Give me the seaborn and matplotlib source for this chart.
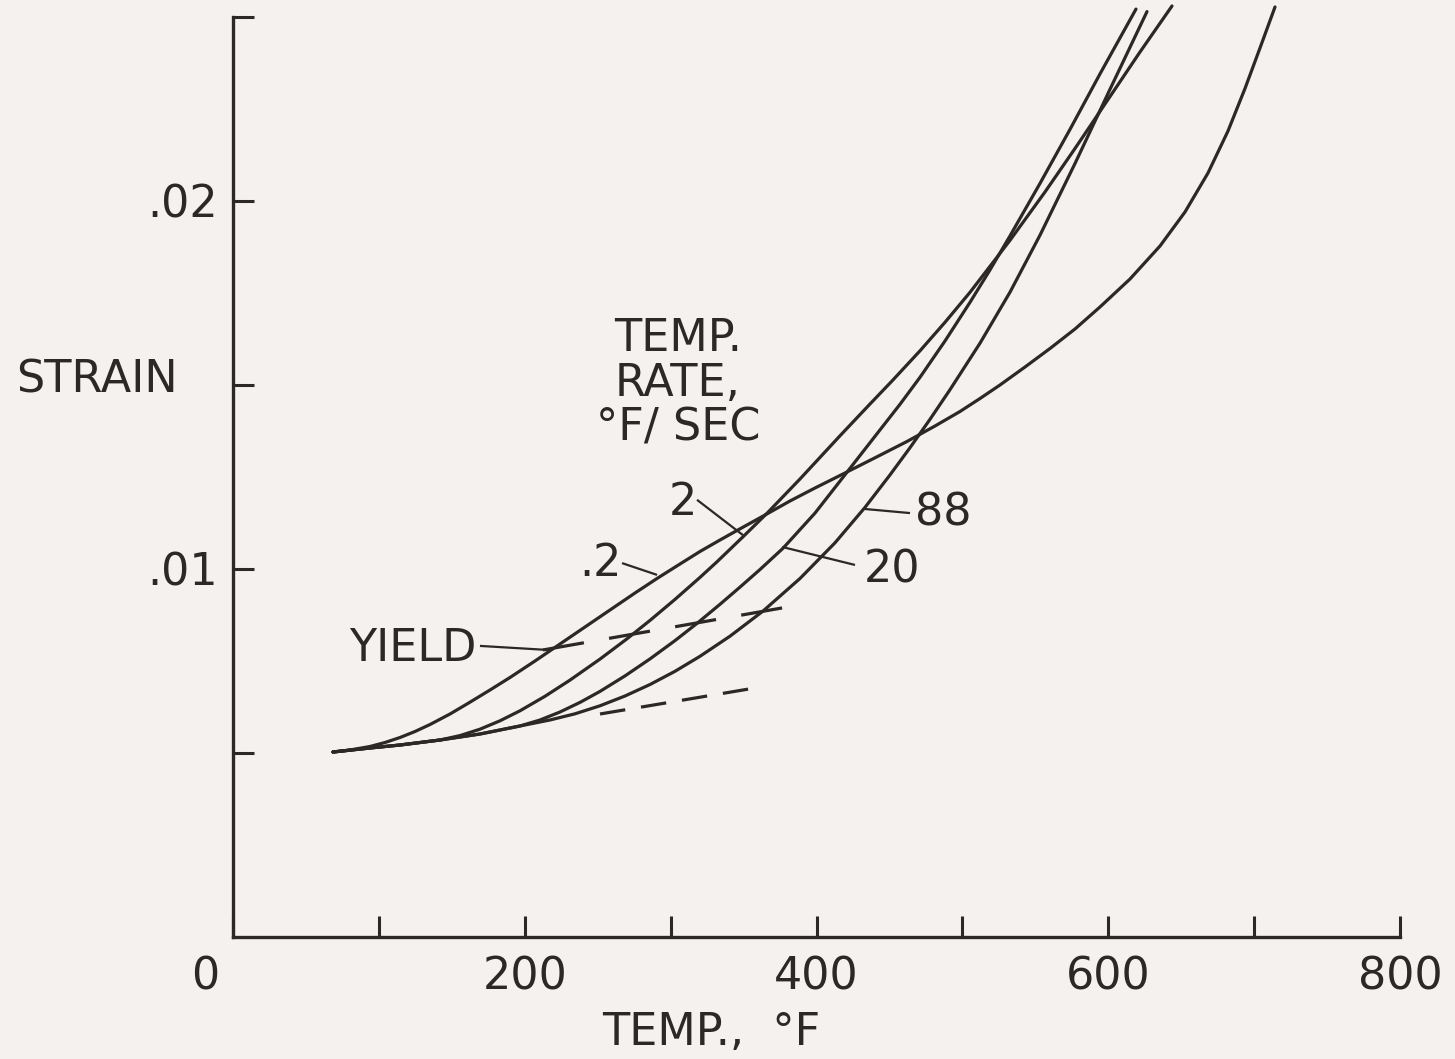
import matplotlib
matplotlib.use("Agg")
import matplotlib.pyplot as plt
import matplotlib.transforms as mtransforms
import pandas as pd
import seaborn as sns

# ---------------- data ----------------
rate_names = [".2", "2", "20", "88"]

temp_r02 = [68.55, 80.21, 93.92, 104.20, 114.48, 124.76, 135.05, 148.76, 160.41, 176.18,
            189.89, 207.03, 224.16, 241.30, 258.44, 275.58, 290.66, 306.43, 320.14, 333.85,
            345.50, 364.70, 381.83, 398.97, 418.17, 440.10, 462.04, 481.24, 498.37, 512.08,
            525.79, 542.93, 560.07, 577.21, 594.34, 614.91, 635.48, 652.61, 668.38, 682.09,
            693.74, 704.03, 714.31]
strain_r02 = [0.005027, 0.005082, 0.005177, 0.005285, 0.005421, 0.005584, 0.005774,
              0.006060, 0.006332, 0.006712, 0.007052, 0.007500, 0.007962, 0.008424,
              0.008886, 0.009348, 0.009742, 0.010136, 0.010476, 0.010788, 0.011046,
              0.011467, 0.011848, 0.012201, 0.012582, 0.013022, 0.013465, 0.013886,
              0.014280, 0.014633, 0.015000, 0.015489, 0.015992, 0.016522, 0.017120,
              0.017880, 0.018777, 0.019701, 0.020761, 0.021902, 0.023057, 0.024158,
              0.025272]

temp_r2 = [68.55, 93.92, 114.48, 141.90, 155.61, 169.32, 183.03, 196.74, 213.88, 231.02,
           251.59, 270.09, 285.86, 303.00, 320.14, 331.79, 349.61, 366.07, 388.69, 416.11,
           436.68, 451.76, 470.95, 488.09, 505.23, 532.65, 556.64, 577.21, 597.77, 621.76,
           643.70]
strain_r2 = [0.005027, 0.005136, 0.005217, 0.005353, 0.005473, 0.005647, 0.005875,
             0.006147, 0.006541, 0.006981, 0.007552, 0.008103, 0.008603, 0.009174,
             0.009772, 0.010196, 0.010875, 0.011514, 0.012446, 0.013620, 0.014484,
             0.015109, 0.015929, 0.016704, 0.017519, 0.018932, 0.020245, 0.021427,
             0.022636, 0.024049, 0.025299]

temp_r20 = [68.55, 93.92, 114.48, 141.90, 169.32, 196.74, 210.46, 224.16, 237.87, 251.59,
            268.72, 285.86, 303.00, 318.08, 333.85, 347.56, 361.27, 377.04, 398.97, 418.17,
            440.10, 457.24, 470.95, 488.09, 505.23, 518.94, 532.65, 553.21, 573.78, 594.34,
            619.02]
strain_r20 = [0.005027, 0.005136, 0.005217, 0.005353, 0.005516, 0.005734, 0.005897,
              0.006114, 0.006375, 0.006674, 0.007095, 0.007557, 0.008054, 0.008522,
              0.009041, 0.009508, 0.009986, 0.010563, 0.011519, 0.012492, 0.013606,
              0.014476, 0.015209, 0.016196, 0.017247, 0.018128, 0.019052, 0.020478,
              0.021946, 0.023454, 0.025215]

temp_r88 = [68.55, 93.92, 114.48, 141.90, 169.32, 196.74, 217.31, 234.45, 251.59, 268.72,
            285.86, 303.00, 320.14, 340.70, 363.32, 388.69, 412.68, 433.25, 450.39, 464.10,
            477.81, 491.52, 512.08, 532.65, 553.21, 577.21, 601.20, 626.56]
strain_r88 = [0.005027, 0.005136, 0.005217, 0.005353, 0.005516, 0.005734, 0.005897,
              0.006065, 0.006283, 0.006549, 0.006861, 0.007220, 0.007628, 0.008174,
              0.008856, 0.009742, 0.010712, 0.011674, 0.012557, 0.013296, 0.014068,
              0.014873, 0.016136, 0.017522, 0.019071, 0.021019, 0.023036, 0.025147]

yield_temp = [212.5, 380.5]
yield_strain = [0.00780, 0.00897]

lower_temp = [251.6, 361.3]
lower_strain = [0.00606, 0.00679]

x_ticks = [0, 100, 200, 300, 400, 500, 600, 700, 800]
x_ticklabels = ["0", "", "200", "", "400", "", "600", "", "800"]
y_ticks = [0.005, 0.010, 0.015, 0.020, 0.025]
y_ticklabels = ["", ".01", "", ".02", ""]

# ---------------- style ----------------
ink = "#2b2826"
paper = "#f5f1ee"
sns.set_theme(style="white")
plt.rcParams["font.family"] = ["DejaVu Sans"]
plt.rcParams["text.color"] = ink
FS = 32

fig = plt.figure(figsize=(14.55, 10.59), dpi=100, facecolor=paper)
ax = fig.add_axes([233 / 1455, 1 - 937 / 1059, 1167 / 1455, 920 / 1059])
ax.set_facecolor(paper)

curves = {
    ".2": (temp_r02, strain_r02),
    "2": (temp_r2, strain_r2),
    "20": (temp_r20, strain_r20),
    "88": (temp_r88, strain_r88),
}
for name in rate_names:
    t, s = curves[name]
    df = pd.DataFrame({"temp": t, "strain": s})
    sns.lineplot(data=df, x="temp", y="strain", ax=ax, color=ink, lw=2.3,
                 sort=False, estimator=None, clip_on=False,
                 solid_capstyle="round", solid_joinstyle="round", legend=False)

# yield (long dashes) and lower short-dash line
sns.lineplot(x=yield_temp, y=yield_strain, ax=ax, color=ink, lw=2.3,
             estimator=None, sort=False, legend=False,
             linestyle=(0, (13, 8)))
sns.lineplot(x=lower_temp, y=lower_strain, ax=ax, color=ink, lw=2.3,
             estimator=None, sort=False, legend=False,
             linestyle=(0, (8, 5)))

# leaders and labels
lead_kw = dict(color=ink, lw=1.6, solid_capstyle="butt")
ax.plot([266.7, 290.7], [0.01016, 0.00984], **lead_kw)
ax.text(251.6, 0.01014, ".2", fontsize=FS, ha="center", va="center", color=ink)

ax.plot([318.1, 349.6], [0.01188, 0.01092], **lead_kw)
ax.text(308.5, 0.01182, "2", fontsize=FS, ha="center", va="center", color=ink)

ax.plot([376.4, 426.4], [0.01060, 0.01011], **lead_kw)
ax.text(451.8, 0.00997, "20", fontsize=FS, ha="center", va="center", color=ink)

ax.plot([433.3, 464.1], [0.01163, 0.01152], **lead_kw)
ax.text(486.7, 0.01152, "88", fontsize=FS, ha="center", va="center", color=ink)

ax.plot([169.3, 215.9], [0.00791, 0.00780], **lead_kw)
ax.text(166.6, 0.00785, "YIELD", fontsize=FS, ha="right", va="center", color=ink)

ax.text(305, 0.01505, "TEMP.\nRATE,\n°F/ SEC", fontsize=FS, ha="center",
        va="center", linespacing=1.05, color=ink)

# axes
ax.set_xlim(0, 800)
ax.set_ylim(0, 0.025)
ax.set_xticks(x_ticks)
ax.set_xticklabels(x_ticklabels)
ax.set_yticks(y_ticks)
ax.set_yticklabels(y_ticklabels)
ax.tick_params(axis="both", which="major", direction="in", length=15, width=2.2,
               colors=ink, labelsize=FS, bottom=True, left=True)
ax.tick_params(axis="x", pad=13)
ax.tick_params(axis="y", pad=11)
for side in ["top", "right"]:
    ax.spines[side].set_visible(False)
for side in ["left", "bottom"]:
    ax.spines[side].set_linewidth(2.4)
    ax.spines[side].set_color(ink)

# shift the "0" label left like the reference
first = ax.get_xticklabels()[0]
first.set_transform(first.get_transform() +
                    mtransforms.ScaledTranslation(-0.28, 0, fig.dpi_scale_trans))

ax.set_xlabel("TEMP.,  °F", fontsize=FS, color=ink, va="top")
ax.xaxis.set_label_coords(0.41, -0.080)
ax.set_ylabel("STRAIN", fontsize=FS, color=ink, rotation=0, ha="center", va="center")
ax.yaxis.set_label_coords(-0.117, 0.605)

fig.savefig("out.png", dpi=100, facecolor=paper)
